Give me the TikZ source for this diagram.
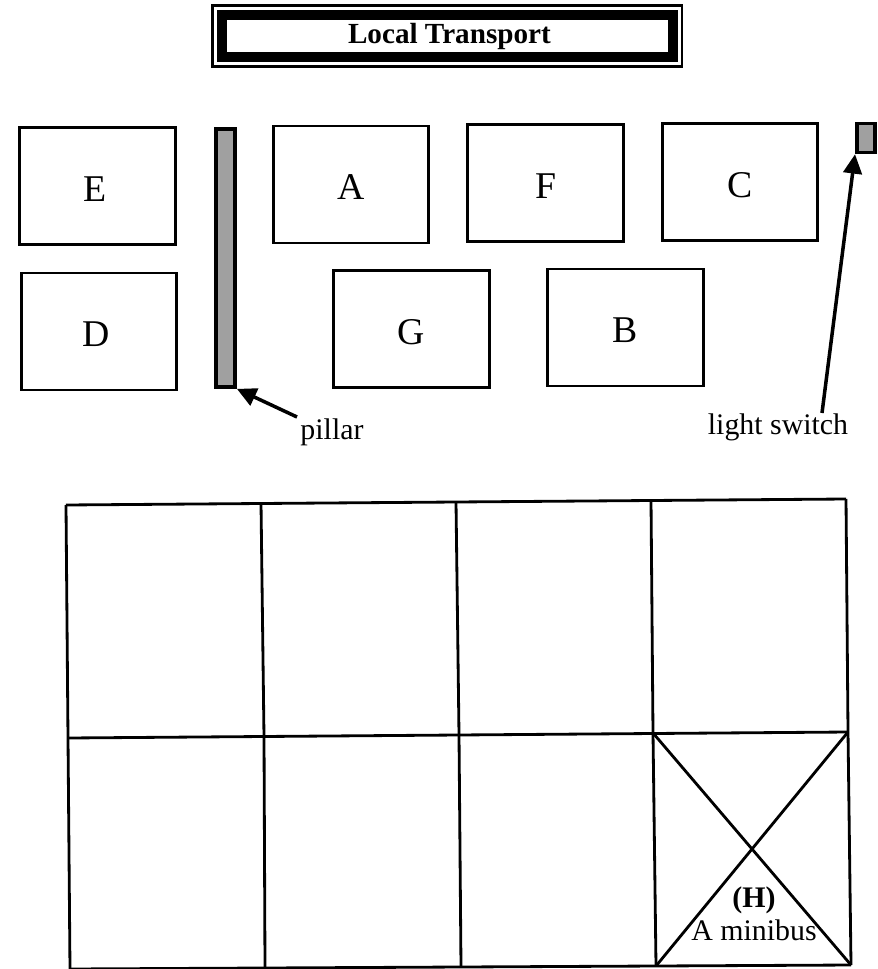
\documentclass[tikz,border=0pt]{standalone}
\usepackage{fontspec}
\setmainfont{Liberation Serif}
\usetikzlibrary{arrows.meta}
\definecolor{shade}{RGB}{160,160,160}
\newcommand{\bigletter}{\fontsize{21.5}{24}\selectfont}
\newcommand{\smalltext}{\fontsize{17}{20}\selectfont}
\tikzset{
  room/.style={draw, line width=1.6pt, minimum width=88.5pt, minimum height=66.5pt, inner sep=0pt,
               font=\bigletter, text height=17.6pt, text depth=0pt},
  fixture/.style={draw, fill=shade, line width=2pt, inner sep=0pt},
  pointer/.style={-{Triangle[length=11pt, width=10.5pt]}, line width=2pt},
  note/.style={font=\smalltext, inner sep=0pt},
  gridline/.style={line width=1.6pt},
}

\begin{document}
\begin{tikzpicture}[x=0.02cm, y=-0.02cm]
  \useasboundingbox (0,0) rectangle (877,969);

  % heading
  \node[draw, line width=1.7pt, minimum width=267.5pt, minimum height=35pt, inner sep=0pt] (titleframe) at (447,36) {};
  \node[draw, line width=5.7pt, minimum width=256.7pt, minimum height=23.9pt, inner sep=0pt,
        font=\fontsize{16.6}{18}\selectfont\bfseries] (title) at (447.5,36) {\hspace*{2.2pt}Local Transport};

  % desks
  \node[room] (E) at (97.5,186) {\hspace*{-3pt}E};
  \node[room] (A) at (351,184.5) {A};
  \node[room] (F) at (545.5,183) {F};
  \node[room] (C) at (740,182) {C};
  \node[room] (D) at (99,331.5) {\hspace*{-3pt}D};
  \node[room] (G) at (411.5,329) {G};
  \node[room] (B) at (625.5,327.5) {B};

  % pillar and switch
  \node[fixture, minimum width=11pt, minimum height=147pt] (pillar) at (225.5,258) {};
  \node[fixture, minimum width=10.5pt, minimum height=16.5pt] (switch) at (866,138) {};
  \node[note] (pillarlabel) at (332,432) {pillar};
  \node[note] (switchlabel) at (778,427) {light switch};
  \coordinate (pillartail) at (297,417);
  \coordinate (switchtail) at (822,413);
  \draw[pointer] (pillartail) -- (pillar.south east);
  \draw[pointer] (switchtail) -- (switch.south west);

  % bay grid
  \coordinate (a0) at (66,505);
  \coordinate (a1) at (261,503);
  \coordinate (a2) at (456,502);
  \coordinate (a3) at (651,500);
  \coordinate (a4) at (846,499);
  \coordinate (b0) at (68,738);
  \coordinate (b1) at (264,737);
  \coordinate (b2) at (459,735);
  \coordinate (b3) at (653,733);
  \coordinate (b4) at (848,732);
  \coordinate (c0) at (70,969);
  \coordinate (c1) at (265,968);
  \coordinate (c2) at (461,967);
  \coordinate (c3) at (656,966);
  \coordinate (c4) at (851,965);
  \foreach \i in {0,...,4}
    \draw[gridline] (a\i) -- (b\i) -- (c\i);
  \draw[gridline] (a0) -- (a4);
  \draw[gridline] (b0) -- (b4);
  \draw[gridline] (c0) -- (c4);
  \draw[gridline] (b3) -- (c4);
  \draw[gridline] (b4) -- (c3);
  \node[note, align=center] (minibus) at (754,914) {\textbf{(H)}\\[-1.5pt]A minibus};
\end{tikzpicture}
\end{document}
